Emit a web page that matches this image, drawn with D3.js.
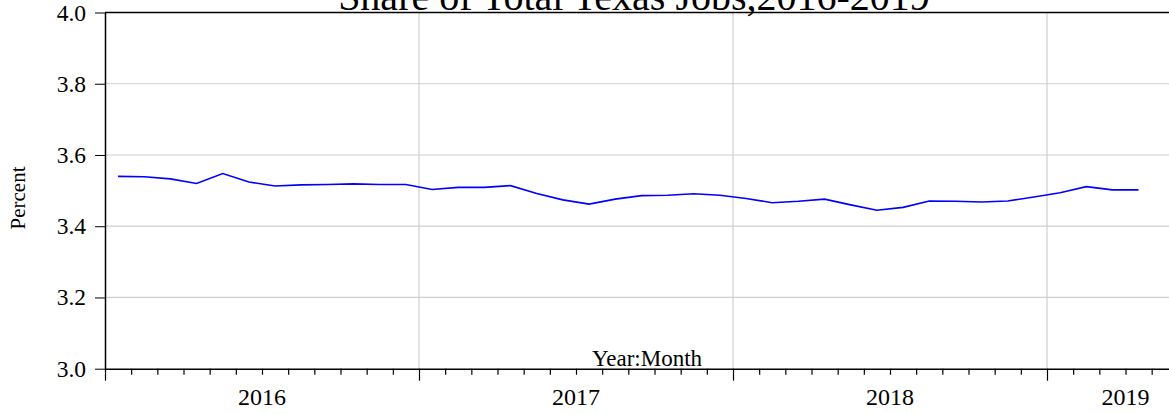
<!DOCTYPE html>
<html lang="en">
<head>
  <meta charset="UTF-8">
  <title>Share of Total Texas Jobs</title>
  <script src="https://d3js.org/d3.v7.min.js"></script>
  <style>
    body { margin: 0; background: #fff; }
    svg text { font-family: "Liberation Serif", "Times New Roman", serif; fill: #000; }
  </style>
</head>
<body>
<svg id="chart"></svg>
<script>
  // Monthly observations, Jan 2016 - Apr 2019
  const months = [
    "2016M01","2016M02","2016M03","2016M04","2016M05","2016M06","2016M07","2016M08","2016M09","2016M10","2016M11","2016M12",
    "2017M01","2017M02","2017M03","2017M04","2017M05","2017M06","2017M07","2017M08","2017M09","2017M10","2017M11","2017M12",
    "2018M01","2018M02","2018M03","2018M04","2018M05","2018M06","2018M07","2018M08","2018M09","2018M10","2018M11","2018M12",
    "2019M01","2019M02","2019M03","2019M04"
  ];
  const share = [
    3.540, 3.539, 3.533, 3.520, 3.548, 3.524, 3.513, 3.516, 3.517, 3.519, 3.517, 3.517,
    3.503, 3.509, 3.509, 3.514, 3.492, 3.474, 3.462, 3.476, 3.486, 3.487, 3.491, 3.487,
    3.478, 3.466, 3.470, 3.476, 3.460, 3.445, 3.453, 3.471, 3.470, 3.468, 3.471, 3.482,
    3.494, 3.511, 3.502, 3.502
  ];
  const years = ["2016", "2017", "2018", "2019"];
  const yTicks = [3.0, 3.2, 3.4, 3.6, 3.8, 4.0];

  const serif = "Liberation Serif";
  const W = 1169, H = 414;
  const margin = { top: 12.5, right: -35, bottom: 45.3, left: 105 };
  const width = W - margin.left - margin.right;
  const height = H - margin.top - margin.bottom;
  const nMonths = 42; // axis runs past the visible edge

  const svg = d3.select("#chart").attr("width", W).attr("height", H);
  const g = svg.append("g").attr("transform", "translate(" + margin.left + "," + margin.top + ")");

  const x = d3.scaleLinear().domain([0, nMonths]).range([0, width]);
  const y = d3.scaleLinear().domain([3.0, 4.0]).range([height, 0]);

  // gridlines
  g.selectAll(".hgrid").data(yTicks.slice(1, -1)).enter().append("line")
    .attr("x1", 0).attr("x2", width)
    .attr("y1", d => y(d)).attr("y2", d => y(d))
    .attr("stroke", "#cfcfcf").attr("stroke-width", 1.2);
  g.selectAll(".vgrid").data(years.slice(1)).enter().append("line")
    .attr("x1", (d, i) => x((i + 1) * 12)).attr("x2", (d, i) => x((i + 1) * 12))
    .attr("y1", 0).attr("y2", height)
    .attr("stroke", "#cfcfcf").attr("stroke-width", 1.2);

  // top frame
  g.append("line").attr("x1", 0).attr("x2", width).attr("y1", 0).attr("y2", 0)
    .attr("stroke", "#000").attr("stroke-width", 1.5);

  // y axis (ticks from d3, labels drawn separately in the serif face)
  const yAxis = g.append("g")
    .call(d3.axisLeft(y).tickValues(yTicks).tickFormat("").tickSize(10).tickSizeOuter(0));
  yAxis.select(".domain").attr("stroke-width", 1.5);

  g.selectAll(".ylab").data(yTicks).enter().append("text")
    .attr("class", "ylab")
    .attr("x", -19)
    .attr("y", d => y(d))
    .attr("dy", "0.34em")
    .attr("text-anchor", "end")
    .attr("font-family", serif)
    .attr("font-size", 23.5)
    .text(d3.format(".1f"));

  // x axis: month ticks, longer at year boundaries
  const xAxis = g.append("g")
    .attr("transform", "translate(0," + height + ")")
    .call(d3.axisBottom(x).tickValues(d3.range(0, nMonths + 1)).tickFormat("").tickSize(6).tickSizeOuter(0));
  xAxis.select(".domain").attr("stroke-width", 1.5);
  xAxis.selectAll(".tick line").attr("y2", d => d % 12 === 0 ? 12 : 6).attr("stroke-width", 1.2);

  // year labels centred on each year span
  g.selectAll(".year").data(years).enter().append("text")
    .attr("x", (d, i) => (x(i * 12) + x(Math.min((i + 1) * 12, nMonths))) / 2)
    .attr("y", height + 36)
    .attr("text-anchor", "middle")
    .attr("font-family", serif)
    .attr("font-size", 24)
    .text(d => d);

  // series line
  const line = d3.line()
    .x((d, i) => x(i + 0.5))
    .y(d => y(d));
  g.append("path").datum(share)
    .attr("d", line)
    .attr("fill", "none")
    .attr("stroke", "#0000ff")
    .attr("stroke-width", 1.6);

  // axis titles
  g.append("text")
    .attr("x", 542).attr("y", height - 3)
    .attr("text-anchor", "middle")
    .attr("font-family", serif)
    .attr("font-size", 23)
    .text("Year:Month");

  svg.append("text")
    .attr("transform", "translate(25,198) rotate(-90)")
    .attr("text-anchor", "middle")
    .attr("font-family", serif)
    .attr("font-size", 21)
    .text("Percent");

  // title, clipped at the top like the source figure
  svg.append("text")
    .attr("x", 634).attr("y", 10)
    .attr("text-anchor", "middle")
    .attr("font-family", serif)
    .attr("font-size", 40)
    .text("Share of Total Texas Jobs,2016-2019");
</script>
</body>
</html>
